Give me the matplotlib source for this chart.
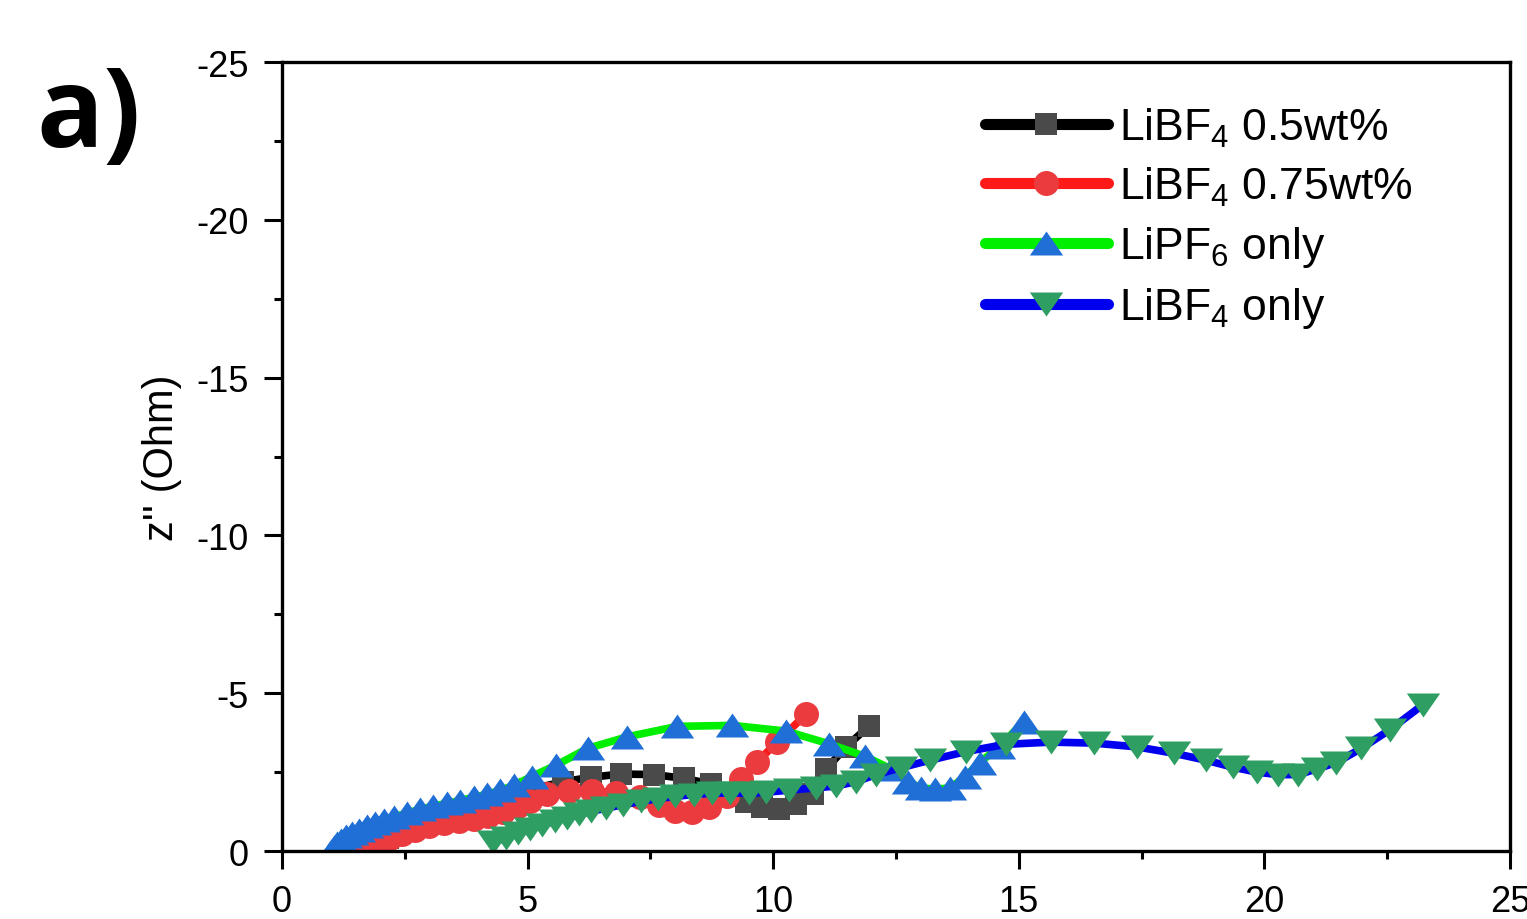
import matplotlib
matplotlib.use('Agg')
from matplotlib import pyplot as plt
from matplotlib.ticker import MultipleLocator
import numpy as np

plt.rcParams['font.family'] = ['Liberation Sans', 'DejaVu Sans']
plt.rcParams['mathtext.fontset'] = 'custom'
plt.rcParams['mathtext.rm'] = 'Liberation Sans'
plt.rcParams['mathtext.it'] = 'Liberation Sans'
plt.rcParams['axes.unicode_minus'] = False

# Z' (Ohm) / -Z'' (Ohm)
bf05_x = [1.65, 1.8, 1.95, 2.15, 2.4, 2.65, 2.95, 3.25, 3.55, 3.85, 4.15, 4.45, 4.75, 5.05,
          5.71, 6.3, 6.91, 7.58, 8.19, 8.74, 9.15, 9.45, 9.78, 10.12, 10.47, 10.8, 11.08, 11.48, 11.95]
bf05_y = [0.0, 0.15, 0.28, 0.42, 0.57, 0.7, 0.82, 0.92, 1.0, 1.08, 1.2, 1.38, 1.6, 1.95,
          2.19, 2.34, 2.44, 2.42, 2.3, 2.12, 1.75, 1.55, 1.39, 1.33, 1.49, 1.8, 2.6, 3.3, 3.96]

bf075_x = [1.7, 1.85, 2.0, 2.2, 2.45, 2.7, 3.0, 3.3, 3.6, 3.9, 4.2, 4.5, 4.8, 5.05,
           5.39, 5.85, 6.32, 6.8, 7.28, 7.68, 8.0, 8.35, 8.7, 9.05, 9.35, 9.67, 10.08, 10.67]
bf075_y = [0.0, 0.12, 0.25, 0.4, 0.55, 0.68, 0.8, 0.88, 0.95, 1.0, 1.1, 1.25, 1.42, 1.6,
           1.8, 1.9, 1.9, 1.85, 1.72, 1.45, 1.28, 1.25, 1.4, 1.75, 2.28, 2.82, 3.45, 4.34]

pf6_x = [1.0, 1.05, 1.12, 1.2, 1.3, 1.42, 1.56, 1.72, 1.9, 2.08, 2.27, 2.54, 2.8, 3.07,
         3.35, 3.62, 3.9, 4.17, 4.43, 4.72, 5.08, 5.58, 6.22, 7.03, 8.05, 9.17, 10.26,
         11.13, 11.87, 12.4, 12.75, 13.0, 13.3, 13.6, 13.9, 14.2, 14.6, 15.1]
pf6_y = [0.0, 0.12, 0.25, 0.36, 0.47, 0.58, 0.68, 0.78, 0.88, 0.98, 1.08, 1.2, 1.32, 1.42,
         1.51, 1.6, 1.7, 1.8, 1.92, 2.08, 2.36, 2.72, 3.25, 3.62, 3.95, 3.98, 3.8,
         3.4, 3.0, 2.6, 2.2, 2.0, 1.96, 2.0, 2.35, 2.8, 3.3, 4.1]

bf_x = [4.3, 4.55, 4.8, 5.05, 5.3, 5.55, 5.8, 6.05, 6.3, 6.6, 6.95, 7.3, 7.65, 8.0, 8.38,
        8.75, 9.12, 9.5, 9.85, 10.33, 10.87, 11.28, 11.69, 12.09, 12.6, 13.2, 13.92, 14.73,
        15.65, 16.52, 17.4, 18.15, 18.8, 19.35, 19.84, 20.28, 20.69, 21.06, 21.46, 21.97,
        22.56, 23.23]
bf_y = [0.28, 0.42, 0.56, 0.7, 0.83, 0.95, 1.06, 1.16, 1.26, 1.36, 1.47, 1.57, 1.66, 1.73,
        1.79, 1.83, 1.84, 1.83, 1.86, 1.93, 2.0, 2.06, 2.2, 2.42, 2.64, 2.88, 3.15, 3.38,
        3.45, 3.42, 3.3, 3.1, 2.88, 2.66, 2.5, 2.42, 2.42, 2.6, 2.8, 3.25, 3.85, 4.64]

labels = ['LiBF$_4$ 0.5wt%', 'LiBF$_4$ 0.75wt%', 'LiPF$_6$ only', 'LiBF$_4$ only']

tri_up = [(-1, -0.72), (1, -0.72), (0, 0.72)]
tri_dn = [(-1, 0.72), (1, 0.72), (0, -0.72)]

fig = plt.figure(figsize=(15.27, 9.2), dpi=100)
ax = fig.add_axes([0.1847, 0.0739, 0.8042, 0.8576])

series = [
    (bf05_x, bf05_y, 'black', '#4a4a4a', 's', 16),
    (bf075_x, bf075_y, '#ff1a1a', '#ec3b3f', 'o', 18),
    (pf6_x, pf6_y, '#00ee00', '#1f6fd6', tri_up, 24),
    (bf_x, bf_y, '#0000ee', '#2e9e63', tri_dn, 24),
]
for (xs, ys, lc, mc, mk, ms), lab in zip(series, labels):
    ax.plot(xs, -np.array(ys), color=lc, lw=5.5, marker=mk, ms=ms,
            mfc=mc, mec=mc, mew=0, label=lab, solid_capstyle='round')

ax.set_xlim(0, 25)
ax.set_ylim(0, -25)
ax.xaxis.set_major_locator(MultipleLocator(5))
ax.xaxis.set_minor_locator(MultipleLocator(2.5))
ax.yaxis.set_major_locator(MultipleLocator(5))
ax.yaxis.set_minor_locator(MultipleLocator(2.5))
ax.tick_params(which='major', direction='out', length=13, width=2.2, pad=11, labelsize=26)
ax.tick_params(which='minor', direction='out', length=6, width=2.2)
for sp in ax.spines.values():
    sp.set_linewidth(2.4)

ax.set_ylabel("z'' (Ohm)", fontsize=30, labelpad=10)

leg = ax.legend(loc='upper left', bbox_to_anchor=(0.645, 0.884), bbox_transform=fig.transFigure,
                frameon=False, fontsize=32, handlelength=2.77, handletextpad=0.25,
                labelspacing=0.36, borderpad=0, borderaxespad=0)
for h in leg.get_lines():
    h.set_linewidth(8)

fig.text(0.024, 0.84, 'a)', fontsize=80, fontweight='bold', family='Open Sans')

fig.savefig('out.png', dpi=100)
